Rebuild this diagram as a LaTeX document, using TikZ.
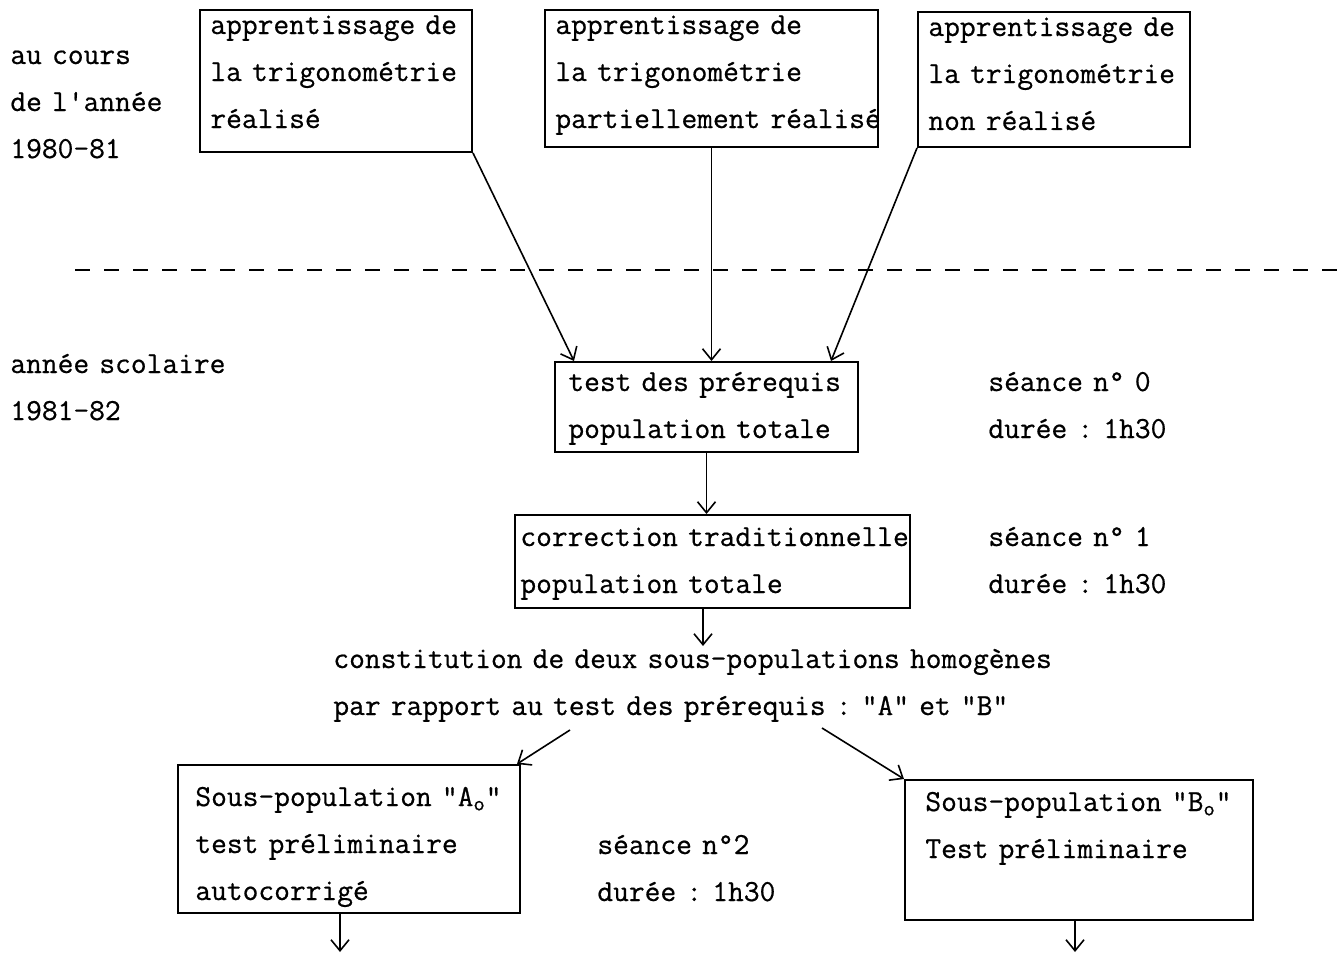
\documentclass[tikz,border=0pt]{standalone}
\usepackage{fontspec}
\newfontfamily\tw{Latin Modern Mono}[FakeBold=0.6]
\usetikzlibrary{arrows.meta,fit,calc}
\begin{document}
\begin{tikzpicture}[x=0.5pt,y=-0.5pt,
  box/.style={draw, line width=1pt, inner sep=0pt},
  txt/.style={anchor=base west, inner sep=0pt, text width=400pt, align=left, font=\tw\fontsize{15.3}{23.5}\selectfont\frenchspacing},
  arr/.style={-{Straight Barb[length=5.5pt,width=9pt]}, line width=0.8pt},
  sep/.style={dash pattern=on 7.5pt off 7pt, line width=0.8pt}
]
\useasboundingbox (0,0) rectangle (1343,953);

% left labels
\node[txt] (l1) at (10,64) {au cours\\de l'année\\1980-81};
\node[txt] (l2) at (10,373) {année scolaire\\1981-82};

% top boxes
\node[box, fit={(200,10) (472,152)}] (b1) {};
\node[txt] (t1) at (210,34) {apprentissage de\\la trigonométrie\\réalisé};
\node[box, fit={(545,10) (878,147)}] (b2) {};
\node[txt] (t2) at (555,34) {apprentissage de\\la trigonométrie\\partiellement réalisé};
\node[box, fit={(918,12) (1190,147)}] (b3) {};
\node[txt] (t3) at (928,36) {apprentissage de\\la trigonométrie\\non réalisé};

% separator
\coordinate (dl) at (75,270);
\coordinate (dr) at (1343,270);
\draw[sep] (dl) -- (dr);

% test box
\node[box, fit={(555,362) (858,452)}] (test) {};
\node[txt] (tt) at (568,391) {test des prérequis\\population totale};
\node[txt] (s0) at (988,391) {séance n° 0\\durée : 1h30};

% correction box
\node[box, fit={(515,515) (910,608)}] (corr) {};
\node[txt] (tc) at (520,546) {correction traditionnelle\\population totale};
\node[txt] (s1) at (988,546) {séance n° 1\\durée : 1h30};

% constitution
\node[txt, text width=600pt] (cons) at (333,668) {constitution de deux sous-populations homogènes\\par rapport au test des prérequis : "A" et "B"};

% bottom boxes
\node[box, fit={(178,765) (520,913)}] (bA) {};
\node[txt] (tA) at (195,806) {Sous-population "A\textsubscript{o}"\\test préliminaire\\autocorrigé};
\node[txt] (s2) at (597,854) {séance n°2\\durée : 1h30};
\node[box, fit={(905,780) (1253,920)}] (bB) {};
\node[txt] (tB) at (925,811) {Sous-population "B\textsubscript{o}"\\Test préliminaire};

% connectors
\draw[arr] (b1.south east) -- ([xshift=10pt]test.north west);
\draw[arr] (b2.south) -- (b2.south |- test.north);
\draw[arr] (b3.south west) -- ([xshift=-14pt]test.north east);
\draw[arr] (test.south) -- (test.south |- corr.north);
\coordinate (c1) at (703,608);
\coordinate (c2) at (703,646);
\draw[arr] (c1) -- (c2);
\coordinate (sA) at (570,730);
\coordinate (sB) at (822,728);
\draw[arr] (sA) -- ([xshift=-2pt]bA.north east);
\draw[arr] (sB) -- (bB.north west);
\coordinate (eA) at (340,952);
\coordinate (eB) at (1075,952);
\draw[arr] (bA.south -| eA) -- (eA);
\draw[arr] (bB.south -| eB) -- (eB);
\end{tikzpicture}
\end{document}
